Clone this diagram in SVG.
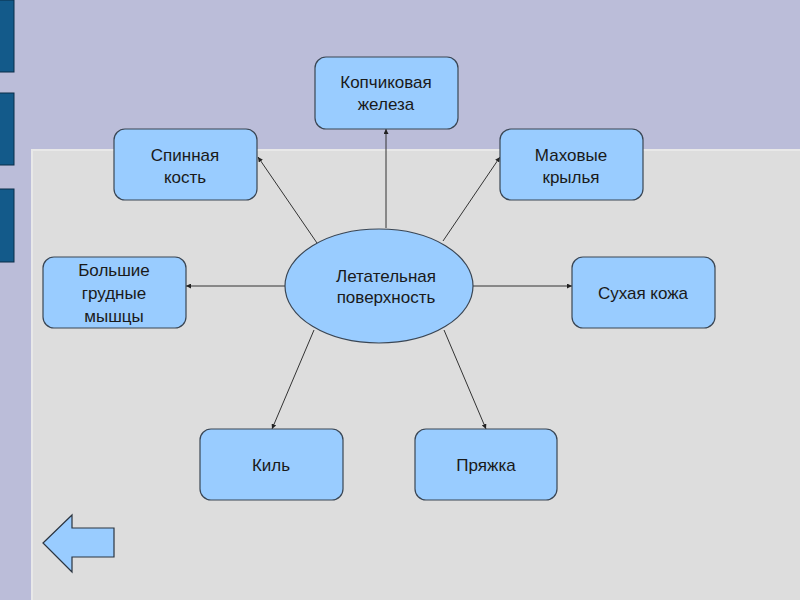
<svg xmlns="http://www.w3.org/2000/svg" width="800" height="600" viewBox="0 0 800 600">
<defs>
<style>
.node rect, .node ellipse { fill:#99ccff; stroke:#3a4654; stroke-width:1.2; }
.node text { font-family:"Liberation Sans", Arial, sans-serif; font-size:17px; fill:#1a1a1a; text-anchor:middle; }
.conn line { stroke:#333; stroke-width:1; marker-end:url(#ah); }
.bar { fill:#135a8a; stroke:#0b2e48; stroke-width:1; }
</style>
<marker id="ah" viewBox="0 0 10 10" refX="10" refY="5" markerWidth="5" markerHeight="5" orient="auto" markerUnits="userSpaceOnUse">
<path d="M0,0 L10,5 L0,10 z" fill="#222"/>
</marker>
</defs>
<rect x="0" y="0" width="800" height="600" fill="#bbbdd9"/>
<rect class="bar" x="-1" y="0" width="15" height="72"/>
<rect class="bar" x="-1" y="93" width="15" height="72"/>
<rect class="bar" x="-1" y="189" width="15" height="73"/>
<rect x="32" y="150" width="770" height="452" fill="#dddddd" stroke="#e8e8e8" stroke-width="2"/>

<g class="conn">
<line x1="386" y1="228" x2="386" y2="129"/>
<line x1="317" y1="243" x2="258" y2="157"/>
<line x1="443" y1="241" x2="500" y2="157"/>
<line x1="285" y1="286" x2="186" y2="286"/>
<line x1="473" y1="286" x2="572" y2="286"/>
<line x1="314" y1="330" x2="272" y2="429"/>
<line x1="444" y1="330" x2="486" y2="429"/>
</g>

<g id="center" class="node">
<ellipse cx="379" cy="286" rx="94" ry="57"/>
<text x="386" y="282">Летательная</text>
<text x="386" y="303">поверхность</text>
</g>
<g id="kopchik" class="node">
<rect x="315" y="57" width="143" height="72" rx="11"/>
<text x="386" y="88">Копчиковая</text>
<text x="386" y="110">железа</text>
</g>
<g id="spinnaya" class="node">
<rect x="114" y="129" width="143" height="71" rx="11"/>
<text x="185" y="161">Спинная</text>
<text x="185" y="183">кость</text>
</g>
<g id="makhovye" class="node">
<rect x="500" y="129" width="143" height="71" rx="11"/>
<text x="571" y="161">Маховые</text>
<text x="571" y="183">крылья</text>
</g>
<g id="grudnye" class="node">
<rect x="43" y="257" width="143" height="71" rx="11"/>
<text x="114" y="276">Большие</text>
<text x="114" y="299">грудные</text>
<text x="114" y="322">мышцы</text>
</g>
<g id="kozha" class="node">
<rect x="572" y="257" width="143" height="71" rx="11"/>
<text x="643" y="299">Сухая кожа</text>
</g>
<g id="kil" class="node">
<rect x="200" y="429" width="143" height="71" rx="11"/>
<text x="271" y="471">Киль</text>
</g>
<g id="pryazhka" class="node">
<rect x="415" y="429" width="142" height="71" rx="11"/>
<text x="486" y="471">Пряжка</text>
</g>

<polygon points="43,543 72,515 72,528 114,528 114,557 72,557 72,572" fill="#99ccff" stroke="#2b3440" stroke-width="1.2"/>
</svg>
